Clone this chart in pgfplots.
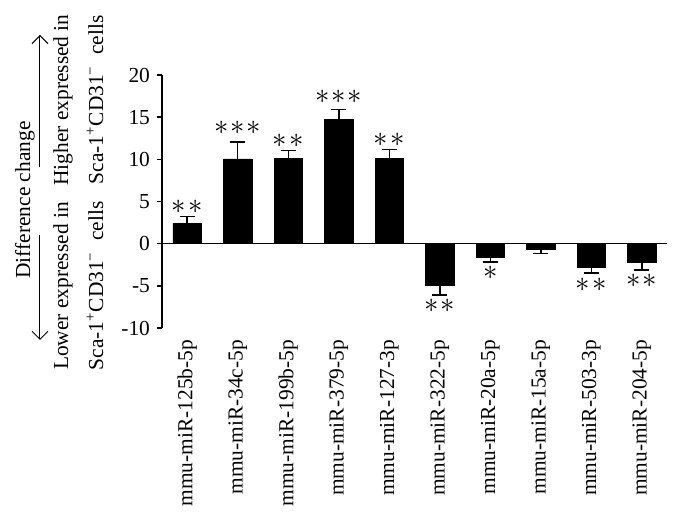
\documentclass[border=0pt]{standalone}
\usepackage{fontspec}
\setmainfont{Liberation Serif}
\usepackage{pgfplots}
\pgfplotsset{compat=1.18}
\usetikzlibrary{arrows.meta,plotmarks}
\newcommand{\sca}{Sca-1\textsuperscript{+}CD31\textsuperscript{\char"2212}\ \ cells}
\begin{document}
\begin{tikzpicture}[font=\fontsize{10.7}{12.8}\selectfont]
\useasboundingbox (-81pt,-98pt) rectangle (259.5pt,164pt);
\begin{axis}[
  at={(0,0)}, anchor=south west,
  scale only axis, width=252.5pt, height=126.5pt,
  xmin=-0.5, xmax=9.5, ymin=-10, ymax=20,
  ybar, bar width=14.25pt,
  axis lines*=left,
  x axis line style={draw=none},
  axis line style={line width=0.75pt},
  xtick={0,...,9},
  xticklabels={mmu-miR-125b-5p,mmu-miR-34c-5p,mmu-miR-199b-5p,mmu-miR-379-5p,mmu-miR-127-3p,mmu-miR-322-5p,mmu-miR-20a-5p,mmu-miR-15a-5p,mmu-miR-503-3p,mmu-miR-204-5p},
  x tick label style={rotate=90, anchor=east, font=\fontsize{10.7}{12.8}\selectfont},
  xtick style={draw=none},
  ytick={-10,-5,0,5,10,15,20},
  y tick label style={font=\fontsize{10.7}{12.8}\selectfont},
  ytick style={line width=0.75pt, black},
  tick align=outside, major tick length=2.5pt,
  /pgf/number format/assume math mode=true,
  extra y ticks={0}, extra y tick labels={},
  extra y tick style={grid=major, major grid style={black, line width=0.75pt}, major tick length=0pt},
  clip=false,
]
% positive bars
\addplot[fill=black, draw=black, bar shift=0pt,
  error bars/.cd, y dir=plus, y explicit,
  error mark=|, error bar style={line width=0.75pt, black},
  error mark options={line width=0.75pt, black, mark size=3.75pt}]
  table[x=x, y=y, y error=e] {
x y e
0 2.40 0.85
1 10.05 2.00
2 10.10 0.95
3 14.75 1.15
4 10.15 1.00
};
% negative bars
\addplot[fill=black, draw=black, bar shift=0pt,
  error bars/.cd, y dir=minus, y explicit,
  error mark=|, error bar style={line width=0.75pt, black},
  error mark options={line width=0.75pt, black, mark size=3.75pt}]
  table[x=x, y=y, y error=e] {
x y e
5 -4.90 1.20
6 -1.66 0.50
7 -0.63 0.55
8 -2.85 0.63
9 -2.25 0.87
};
% significance asterisks
\addplot[sharp plot, draw=none, mark=text, text mark={${\ast}\mkern1.2mu{\ast}$}, text mark as node=true,
  text mark style={font=\fontsize{13.5}{14}\selectfont, black}]
  coordinates {(0,4.39) (2,12.2) (4,12.34) (5,-7.35) (8,-4.86) (9,-4.35)};
\addplot[sharp plot, draw=none, mark=text, text mark={${\ast}\mkern1.2mu{\ast}\mkern1.2mu{\ast}$}, text mark as node=true,
  text mark style={font=\fontsize{13.5}{14}\selectfont, black}]
  coordinates {(1,13.76) (3,17.44)};
\addplot[sharp plot, draw=none, mark=text, text mark={${\ast}$}, text mark as node=true,
  text mark style={font=\fontsize{13.5}{14}\selectfont, black}]
  coordinates {(6,-3.4)};
\end{axis}
% y-axis annotations
\node[rotate=90] at (-68.5pt,64pt) {Difference change};
\draw[line width=0.5pt, -{Straight Barb[length=4pt,width=8pt]}] (-61pt,80.5pt) -- (-61pt,146.5pt);
\draw[line width=0.5pt, -{Straight Barb[length=4pt,width=8pt]}] (-61pt,46.5pt) -- (-61pt,-6pt);
\node[rotate=90] at (-49.5pt,114pt) {Higher expressed in};
\node[rotate=90] at (-33.5pt,114pt) {\sca};
\node[rotate=90] at (-49.5pt,21pt) {Lower expressed in};
\node[rotate=90] at (-33.5pt,21pt) {\sca};
\end{tikzpicture}
\end{document}
